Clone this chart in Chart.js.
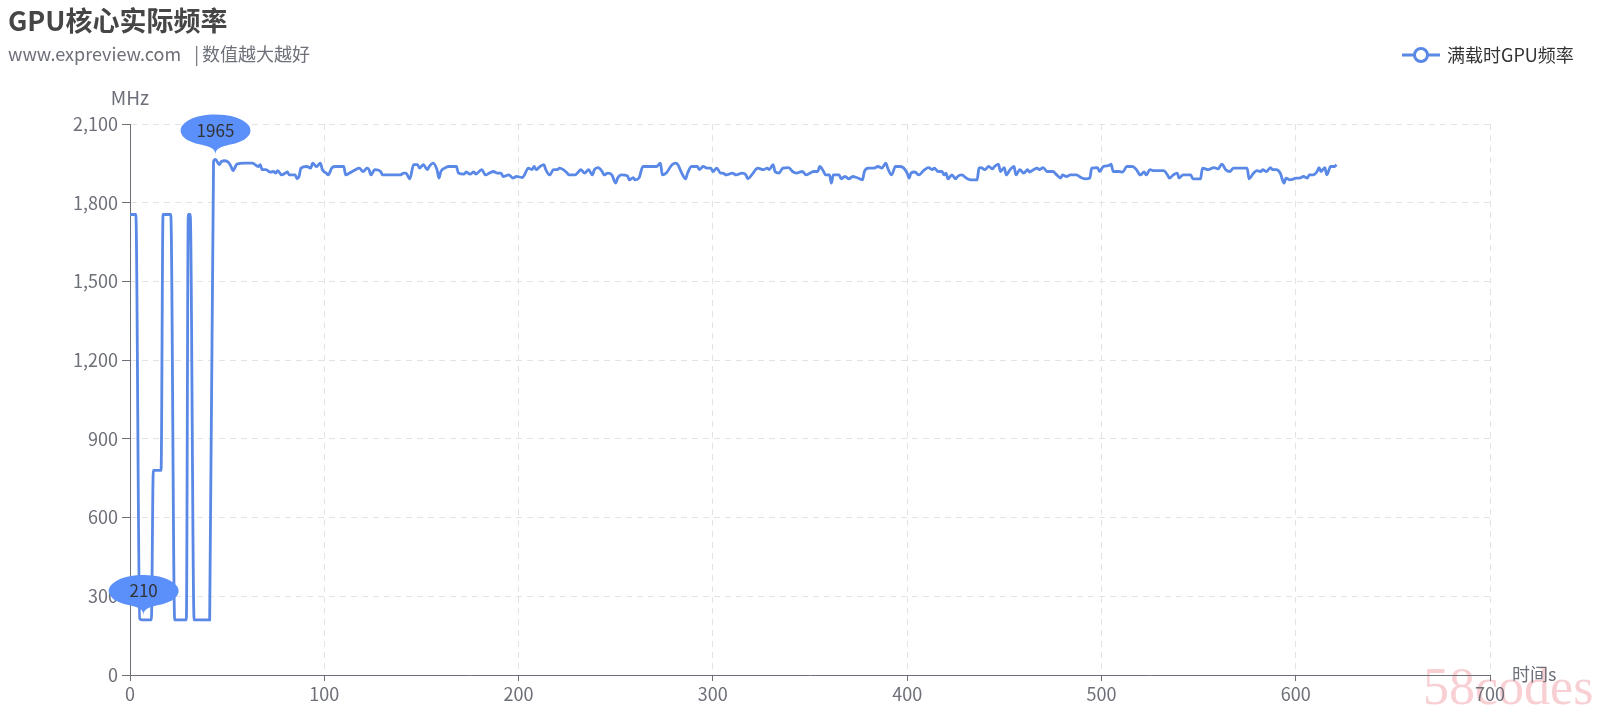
<!DOCTYPE html>
<html lang="zh-CN">
<head>
    <meta charset="UTF-8">
    <title>GPU核心实际频率</title>
    <script src="https://cdn.jsdelivr.net/npm/chart.js"></script>
    <style>
        html, body { margin: 0; padding: 0; background: #fff; }
        canvas { display: block; }
    </style>
</head>
<body>
    <canvas id="myChart" width="1620" height="720"></canvas>

    <script>
        // 时间 (s) 与频率 (MHz)
        const seconds = [
            0, 3, 5, 6, 7, 11, 12, 16, 17, 21, 23, 29, 30, 31, 33, 41, 43, 44,
            46, 47, 49, 51, 52, 53, 55, 59, 63, 64, 66, 67, 68, 70, 72, 74, 75, 76, 78, 80,
            81, 82, 85, 86, 87, 88, 91, 93, 94, 96, 98, 99, 101, 102, 104, 106, 110, 111, 113, 116,
            118, 120, 122, 123, 124, 126, 129, 130, 139, 141, 142, 144, 146, 148, 149, 151, 153, 154, 156, 158,
            159, 160, 162, 164, 168, 169, 172, 173, 175, 177, 178, 181, 183, 185, 187, 189, 191, 192, 195, 197,
            199, 202, 203, 205, 207, 208, 209, 211, 213, 214, 216, 218, 220, 221, 223, 225, 226, 229, 231, 232,
            234, 236, 238, 239, 241, 243, 244, 246, 248, 250, 251, 253, 256, 257, 259, 260, 262, 264, 268, 271,
            273, 274, 276, 279, 281, 282, 284, 286, 287, 289, 292, 293, 295, 297, 299, 300, 302, 304, 305, 307,
            310, 312, 315, 317, 318, 320, 322, 323, 326, 328, 329, 331, 332, 334, 336, 339, 341, 343, 346, 348,
            352, 354, 355, 357, 358, 360, 361, 362, 365, 366, 368, 370, 372, 374, 377, 378, 380, 383, 385, 387,
            389, 390, 392, 394, 396, 398, 400, 401, 402, 404, 406, 408, 409, 411, 413, 414, 416, 418, 419, 420,
            421, 423, 425, 426, 428, 431, 433, 436, 437, 438, 440, 442, 444, 445, 447, 448, 450, 451, 453, 455,
            456, 458, 460, 462, 463, 465, 467, 468, 470, 472, 475, 477, 479, 480, 482, 484, 487, 490, 492, 494,
            495, 498, 499, 501, 504, 505, 506, 509, 511, 513, 516, 518, 520, 522, 523, 525, 527, 532, 534, 535,
            537, 539, 540, 542, 546, 547, 551, 552, 555, 558, 560, 562, 564, 566, 568, 571, 575, 576, 578, 580,
            582, 583, 585, 587, 588, 590, 592, 594, 595, 597, 599, 600, 602, 604, 606, 607, 609, 611, 612, 613,
            615, 616, 618, 620, 621
        ];
        const mhz = [
            1755, 1755, 214, 210, 210, 210, 780, 780, 1755, 1755, 210, 210, 1755, 1755, 210, 210, 1957, 1965,
            1945, 1957, 1960, 1951, 1938, 1922, 1947, 1951, 1951, 1947, 1938, 1945, 1926, 1926, 1917, 1919, 1913, 1922, 1906, 1913,
            1917, 1906, 1906, 1891, 1900, 1932, 1938, 1932, 1951, 1938, 1951, 1926, 1913, 1906, 1934, 1938, 1938, 1906, 1913, 1926,
            1932, 1919, 1932, 1926, 1906, 1926, 1919, 1906, 1906, 1913, 1913, 1891, 1945, 1945, 1932, 1945, 1926, 1938, 1951, 1926,
            1894, 1919, 1932, 1938, 1938, 1913, 1909, 1917, 1909, 1917, 1909, 1926, 1906, 1913, 1919, 1913, 1913, 1900, 1906, 1894,
            1900, 1896, 1906, 1932, 1926, 1938, 1926, 1938, 1945, 1926, 1906, 1926, 1926, 1932, 1926, 1913, 1906, 1906, 1919, 1926,
            1913, 1926, 1906, 1926, 1934, 1919, 1906, 1913, 1906, 1875, 1894, 1906, 1903, 1887, 1896, 1887, 1894, 1938, 1938, 1938,
            1951, 1906, 1913, 1945, 1951, 1945, 1913, 1891, 1913, 1938, 1938, 1926, 1938, 1932, 1932, 1919, 1932, 1913, 1913, 1906,
            1913, 1906, 1913, 1906, 1891, 1906, 1926, 1932, 1926, 1932, 1926, 1945, 1919, 1913, 1932, 1934, 1919, 1913, 1919, 1906,
            1919, 1919, 1938, 1919, 1906, 1906, 1875, 1906, 1906, 1891, 1900, 1891, 1900, 1896, 1887, 1919, 1932, 1932, 1938, 1932,
            1951, 1932, 1906, 1938, 1938, 1934, 1913, 1894, 1913, 1917, 1906, 1919, 1926, 1934, 1926, 1932, 1919, 1919, 1906, 1913,
            1891, 1906, 1891, 1900, 1906, 1891, 1887, 1887, 1932, 1934, 1926, 1938, 1929, 1938, 1947, 1919, 1934, 1906, 1926, 1938,
            1906, 1926, 1913, 1926, 1917, 1926, 1932, 1926, 1934, 1919, 1919, 1906, 1894, 1906, 1900, 1906, 1906, 1894, 1891, 1894,
            1932, 1934, 1919, 1938, 1942, 1947, 1919, 1919, 1917, 1938, 1938, 1926, 1906, 1917, 1906, 1926, 1922, 1922, 1906, 1894,
            1906, 1913, 1894, 1906, 1906, 1891, 1891, 1932, 1926, 1934, 1929, 1947, 1926, 1919, 1932, 1932, 1932, 1891, 1910, 1922,
            1919, 1926, 1919, 1934, 1926, 1926, 1913, 1875, 1894, 1887, 1891, 1894, 1894, 1900, 1894, 1906, 1906, 1919, 1934, 1919,
            1934, 1906, 1938, 1938, 1945
        ];

        // 标注点：最大值与最小值
        const markSeconds = [44, 7];
        const markValues = [1965, 210];

        const seriesName = '满载时GPU频率';
        const lineBlue = '#5a88e6';
        const pinBlue = '#5b8ff9';
        const axisGray = '#6e7079';
        const fontFamily = '"Noto Sans CJK SC", "Noto Sans", sans-serif';

        // 气泡形状（圆 + 两条切线到尖端），横向拉伸
        function drawPin(c, px, tipY) {
            const r = 16, h = 48;
            const dy = r * r / (h - r);
            const cy = -h + r + dy;
            const angle = Math.asin(dy / r);
            const dx = Math.cos(angle) * r;
            const tanX = Math.sin(angle), tanY = Math.cos(angle);
            const cpLen = r * 0.6, cpLen2 = r * 0.7;
            c.save();
            c.translate(px, tipY);
            c.scale(35 / r, 1);
            c.beginPath();
            c.moveTo(-dx, cy + dy);
            c.arc(0, cy, r, Math.PI - angle, Math.PI * 2 + angle);
            c.bezierCurveTo(dx - tanX * cpLen, cy + dy + tanY * cpLen, 0, -cpLen2, 0, 0);
            c.bezierCurveTo(0, -cpLen2, -dx + tanX * cpLen, cy + dy + tanY * cpLen, -dx, cy + dy);
            c.closePath();
            c.fillStyle = pinBlue;
            c.fill();
            c.restore();
            return tipY + cy;
        }

        // 标题、图例、轴名称、标注气泡
        const decorations = {
            id: 'decorations',
            beforeDraw(chart) {
                const c = chart.ctx;
                c.save();
                c.fillStyle = '#fff';
                c.fillRect(0, 0, chart.width, chart.height);
                // 水印
                c.font = '52px "Liberation Serif", "DejaVu Serif", serif';
                c.fillStyle = 'rgba(240, 150, 160, 0.45)';
                c.textBaseline = 'middle';
                c.textAlign = 'left';
                c.fillText('58codes', 1423, 690);
                c.restore();
            },
            afterDraw(chart) {
                const c = chart.ctx;
                const area = chart.chartArea;
                const xs = chart.scales.x;
                const ys = chart.scales.y;
                c.save();
                c.textBaseline = 'middle';
                c.textAlign = 'left';

                c.font = 'bold 27px ' + fontFamily;
                c.fillStyle = '#464646';
                c.fillText('GPU核心实际频率', 8, 21);

                c.font = '18px ' + fontFamily;
                c.fillStyle = axisGray;
                const site = 'www.expreview.com';
                c.fillText(site, 8, 54);
                const barX = 8 + c.measureText(site).width + 13;
                c.fillText('|', barX, 54);
                c.fillText('数值越大越好', barX + c.measureText('|').width + 3, 54);

                // 图例
                c.strokeStyle = lineBlue;
                c.lineWidth = 3;
                c.beginPath();
                c.moveTo(1402, 55);
                c.lineTo(1440, 55);
                c.stroke();
                c.beginPath();
                c.arc(1421, 55, 6.5, 0, Math.PI * 2);
                c.fillStyle = '#fff';
                c.fill();
                c.stroke();
                c.fillStyle = '#333';
                c.fillText(seriesName, 1447, 55);

                // 轴名称
                c.font = '19px ' + fontFamily;
                c.fillStyle = axisGray;
                c.textAlign = 'center';
                c.fillText('MHz', area.left, 98);
                c.font = '18px ' + fontFamily;
                c.textAlign = 'left';
                c.fillText('时间s', area.right + 22, area.bottom - 1);

                // 标注气泡
                for (let i = 0; i < markSeconds.length; i++) {
                    const px = xs.getPixelForValue(markSeconds[i]);
                    const py = ys.getPixelForValue(markValues[i]);
                    const labelY = drawPin(c, px, py - 5);
                    c.fillStyle = '#333';
                    c.textAlign = 'center';
                    c.font = '17px ' + fontFamily;
                    c.fillText(String(markValues[i]), px, labelY);
                }
                c.restore();
            }
        };

        const points = seconds.map((s, i) => ({ x: s, y: mhz[i] }));

        const ctx = document.getElementById('myChart').getContext('2d');
        const myChart = new Chart(ctx, {
            type: 'line',
            data: {
                datasets: [{
                    label: seriesName,
                    data: points,
                    borderColor: lineBlue,
                    borderWidth: 2.8,
                    pointRadius: 0,
                    cubicInterpolationMode: 'monotone',
                    fill: false
                }]
            },
            options: {
                responsive: false,
                animation: false,
                layout: { padding: { top: 124, right: 130, left: 0, bottom: 0 } },
                plugins: {
                    legend: { display: false },
                    tooltip: { enabled: false }
                },
                scales: {
                    x: {
                        type: 'linear',
                        min: 0,
                        max: 700,
                        ticks: {
                            stepSize: 100,
                            color: axisGray,
                            font: { family: fontFamily, size: 18 },
                            padding: 2,
                            maxRotation: 0
                        },
                        grid: { color: '#e3e3e3', tickColor: axisGray, tickLength: 6, tickBorderDash: [] },
                        border: { color: axisGray, width: 1, dash: [6, 5] },
                        afterFit: (s) => { s.height = 45; }
                    },
                    y: {
                        min: 0,
                        max: 2100,
                        ticks: {
                            stepSize: 300,
                            color: axisGray,
                            font: { family: fontFamily, size: 18 },
                            padding: 4,
                            callback: (v) => v.toLocaleString('en-US')
                        },
                        grid: { color: '#e3e3e3', tickColor: axisGray, tickLength: 8, tickBorderDash: [] },
                        border: { color: axisGray, width: 1, dash: [6, 5] },
                        afterFit: (s) => { s.width = 130; }
                    }
                }
            },
            plugins: [decorations]
        });
    </script>
</body>
</html>
